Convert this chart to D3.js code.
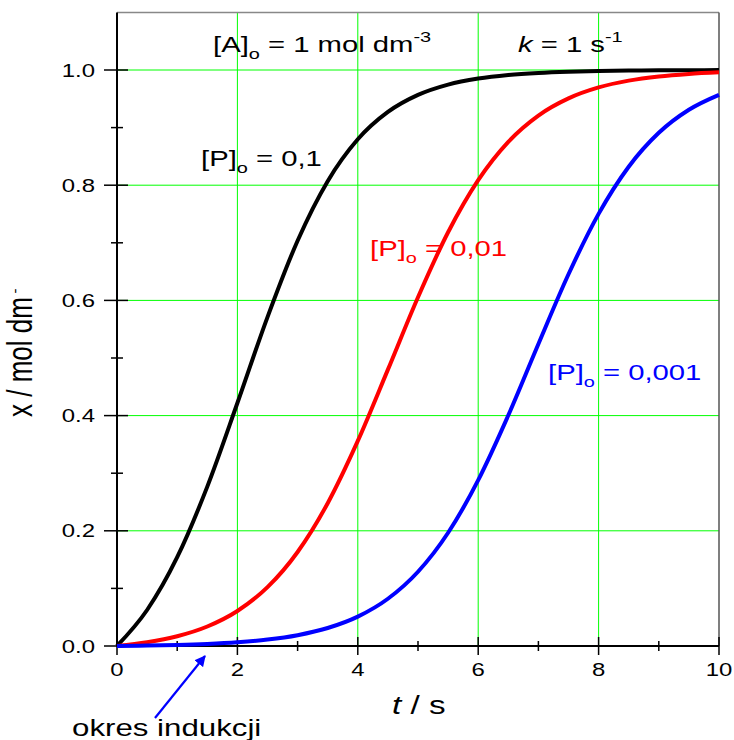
<!DOCTYPE html>
<html>
<head>
<meta charset="utf-8">
<script src="https://cdn.jsdelivr.net/npm/d3@7/dist/d3.min.js"></script>
<style>
  body { margin: 0; background: #fff; }
  text { font-family: "Liberation Sans", Arial, sans-serif; }
</style>
</head>
<body>
<svg id="chart" width="734" height="740"></svg>
<script>
// time points (s)
var times = [0, 0.5, 1, 1.5, 2, 2.5, 3, 3.5, 4, 4.5, 5, 5.5, 6, 6.5, 7, 7.5, 8, 8.5, 9, 9.5, 10];

// x / mol dm-3
var seriesP01 = [0, 0.0625, 0.1541, 0.2767, 0.4218, 0.5710, 0.7036, 0.8070, 0.8797, 0.9272, 0.9568,
  0.9747, 0.9852, 0.9914, 0.9950, 0.9971, 0.9983, 0.9990, 0.9994, 0.9997, 0.9998];
var seriesP001 = [0, 0.0065, 0.0170, 0.0339, 0.0608, 0.1021, 0.1632, 0.2479, 0.3560, 0.4798, 0.6055,
  0.7183, 0.8088, 0.8753, 0.9209, 0.9507, 0.9697, 0.9815, 0.9888, 0.9932, 0.9959];
var seriesP0001 = [0, 0.0007, 0.0017, 0.0035, 0.0064, 0.0111, 0.0188, 0.0312, 0.0510, 0.0820, 0.1289,
  0.1966, 0.2880, 0.4005, 0.5244, 0.6454, 0.7502, 0.8321, 0.8910, 0.9310, 0.9569];

var xTicks = [0, 2, 4, 6, 8, 10];
var xMinor = [1, 3, 5, 7, 9];
var yTicks = [0, 0.2, 0.4, 0.6, 0.8, 1.0];
var yMinor = [0.1, 0.3, 0.5, 0.7, 0.9];

// the original picture is stretched sideways
var SX = 1.33;

var svg = d3.select("#chart");

var x = d3.scaleLinear().domain([0, 10]).range([117, 719]);
var y = d3.scaleLinear().domain([0, 1.1]).range([646, 12.4]);

function place(px, py) {
  return "translate(" + px + "," + py + ") scale(" + SX + ",1)";
}

// grid
svg.append("g").selectAll("line")
  .data(xTicks.slice(1, -1))
  .enter().append("line")
  .attr("x1", d => x(d)).attr("x2", d => x(d))
  .attr("y1", y(1.1)).attr("y2", y(0))
  .attr("stroke", "#00ff00").attr("stroke-width", 1);
svg.append("g").selectAll("line")
  .data(yTicks.slice(1))
  .enter().append("line")
  .attr("x1", x(0)).attr("x2", x(10))
  .attr("y1", d => y(d)).attr("y2", d => y(d))
  .attr("stroke", "#00ff00").attr("stroke-width", 1);

// frame (top / right)
svg.append("line").attr("x1", x(0)).attr("x2", x(10)).attr("y1", y(1.1)).attr("y2", y(1.1))
  .attr("stroke", "#888").attr("stroke-width", 1.5);
svg.append("line").attr("x1", x(10)).attr("x2", x(10)).attr("y1", y(1.1)).attr("y2", y(0))
  .attr("stroke", "#555").attr("stroke-width", 1.5);

// left axis
svg.append("line").attr("x1", x(0)).attr("x2", x(0)).attr("y1", y(1.1)).attr("y2", y(0))
  .attr("stroke", "#000").attr("stroke-width", 2);
svg.append("g").selectAll("line")
  .data(yTicks)
  .enter().append("line")
  .attr("x1", x(0) - 13).attr("x2", x(0) + 11)
  .attr("y1", d => y(d)).attr("y2", d => y(d))
  .attr("stroke", "#000").attr("stroke-width", 1.5);
svg.append("g").selectAll("line")
  .data(yMinor)
  .enter().append("line")
  .attr("x1", x(0) - 6).attr("x2", x(0) + 6)
  .attr("y1", d => y(d)).attr("y2", d => y(d))
  .attr("stroke", "#000").attr("stroke-width", 1.5);
svg.append("g").selectAll("text")
  .data(yTicks)
  .enter().append("text")
  .attr("transform", d => place(95, y(d) + 6.5))
  .attr("text-anchor", "end")
  .attr("font-size", 18)
  .text(d => d3.format(".1f")(d));

// bottom axis
svg.append("line").attr("x1", x(0)).attr("x2", x(10)).attr("y1", y(0)).attr("y2", y(0))
  .attr("stroke", "#000").attr("stroke-width", 2);
svg.append("g").selectAll("line")
  .data(xTicks)
  .enter().append("line")
  .attr("x1", d => x(d)).attr("x2", d => x(d))
  .attr("y1", y(0) - 9).attr("y2", y(0) + 9)
  .attr("stroke", "#000").attr("stroke-width", 1.5);
svg.append("g").selectAll("line")
  .data(xMinor)
  .enter().append("line")
  .attr("x1", d => x(d)).attr("x2", d => x(d))
  .attr("y1", y(0) - 5).attr("y2", y(0) + 5)
  .attr("stroke", "#000").attr("stroke-width", 1.5);
svg.append("g").selectAll("text")
  .data(xTicks)
  .enter().append("text")
  .attr("transform", d => place(x(d), 676))
  .attr("text-anchor", "middle")
  .attr("font-size", 18)
  .text(d => d);

// curves
var line = d3.line()
  .x((d, i) => x(times[i]))
  .y(d => y(d))
  .curve(d3.curveMonotoneX);

[[seriesP01, "#000000"], [seriesP001, "#ff0000"], [seriesP0001, "#0000ff"]].forEach(function (s) {
  svg.append("path")
    .datum(s[0])
    .attr("d", line)
    .attr("fill", "none")
    .attr("stroke", s[1])
    .attr("stroke-width", 4);
});

// axis titles
var xt = svg.append("text").attr("transform", place(392, 714)).attr("font-size", 25);
xt.append("tspan").attr("font-style", "italic").text("t");
xt.append("tspan").text(" / s");

var yt = svg.append("text")
  .attr("transform", "translate(32,417) rotate(-90) scale(1," + SX + ")")
  .attr("font-size", 26);
yt.append("tspan").text("x / mol dm");
yt.append("tspan").attr("font-size", 14).attr("dx", 4).attr("dy", -4).text("ˉ");

// top labels
var a = svg.append("text").attr("transform", place(213, 52)).attr("font-size", 22);
a.append("tspan").text("[A]");
a.append("tspan").attr("font-size", 15).attr("dy", 7).text("o");
a.append("tspan").attr("dy", -7).text(" = 1 mol dm");
a.append("tspan").attr("font-size", 15).attr("dy", -10).text("-3");

var k = svg.append("text").attr("transform", place(518, 52)).attr("font-size", 22);
k.append("tspan").attr("font-style", "italic").text("k");
k.append("tspan").text(" = 1 s");
k.append("tspan").attr("font-size", 15).attr("dy", -10).text("-1");

// curve labels
function pLabel(px, py, val, color) {
  var t = svg.append("text").attr("transform", place(px, py)).attr("font-size", 22).attr("fill", color);
  t.append("tspan").text("[P]");
  t.append("tspan").attr("font-size", 15).attr("dy", 7).text("o");
  t.append("tspan").attr("dy", -7).text(" = " + val);
}
pLabel(201, 166, "0,1", "#000");
pLabel(370, 256, "0,01", "#ff0000");
pLabel(548, 380, "0,001", "#0000ff");

// induction period annotation
svg.append("defs").append("marker")
  .attr("id", "arr").attr("viewBox", "0 0 10 10")
  .attr("refX", 9).attr("refY", 5)
  .attr("markerWidth", 5).attr("markerHeight", 5)
  .attr("orient", "auto")
  .append("path").attr("d", "M0,0 L10,5 L0,10 z").attr("fill", "#0000ff");
svg.append("line")
  .attr("x1", 155).attr("y1", 718).attr("x2", 205).attr("y2", 656)
  .attr("stroke", "#0000ff").attr("stroke-width", 2.2)
  .attr("marker-end", "url(#arr)");
svg.append("text").attr("transform", place(72, 736)).attr("font-size", 23.5).text("okres indukcji");
</script>
</body>
</html>
